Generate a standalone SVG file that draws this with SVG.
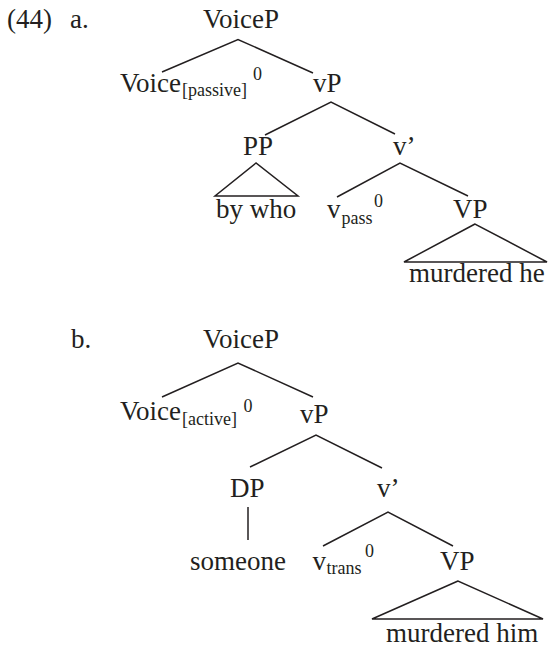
<svg xmlns="http://www.w3.org/2000/svg" width="552" height="650" viewBox="0 0 552 650">
<style>
text{font-family:"Liberation Serif","Times New Roman",serif;fill:#231f20}
.m{font-size:27px}
.s{font-size:18px}
.e{stroke:#231f20;stroke-width:1.5;fill:none;stroke-linecap:butt}
</style>
<rect width="552" height="650" fill="#fff"/>
<g id="labels">
<text class="m" x="7" y="28">(44)</text>
<text class="m" x="70" y="28">a.</text>
<text class="m" x="71" y="348">b.</text>
</g>
<g id="connectors" class="e">
<polyline points="162,72 238,39.5 313,73"/>
<polyline points="265,135 331,102 395,134"/>
<polygon points="256,163 215,196 298,196"/>
<polyline points="337,197 400,163 468,196"/>
<polygon points="475,224 404,262 547,262"/>
<polyline points="162,397 238,363 313,397"/>
<polyline points="250,467 316,435 382,468"/>
<line x1="248" y1="507" x2="248" y2="540"/>
<polyline points="323,546 388,512 453,546"/>
<polygon points="458,581 372,619 543,619"/>
</g>
<g id="a-VoiceP"><text class="m" x="203" y="28">VoiceP</text></g>
<g id="a-Voice"><text class="m" x="120" y="91.5">Voice</text><text class="s" x="182" y="96">[passive]</text><text class="s" x="253" y="80">0</text></g>
<g id="a-vP"><text class="m" x="313" y="91.5">vP</text></g>
<g id="a-PP"><text class="m" x="243" y="155">PP</text></g>
<g id="a-vbar"><text class="m" x="393" y="155">v’</text></g>
<g id="a-bywho"><text class="m" x="216" y="218">by who</text></g>
<g id="a-vpass"><text class="m" x="327" y="218">v</text><text class="s" x="341.5" y="223.5">pass</text><text class="s" x="374" y="207">0</text></g>
<g id="a-VP"><text class="m" x="453" y="218">VP</text></g>
<g id="a-murdered"><text class="m" x="409" y="281.5">murdered he</text></g>
<g id="b-VoiceP"><text class="m" x="203" y="348">VoiceP</text></g>
<g id="b-Voice"><text class="m" x="120" y="420">Voice</text><text class="s" x="182" y="424.5">[active]</text><text class="s" x="243.5" y="412">0</text></g>
<g id="b-vP"><text class="m" x="300" y="423">vP</text></g>
<g id="b-DP"><text class="m" x="230" y="497">DP</text></g>
<g id="b-vbar"><text class="m" x="377" y="497">v’</text></g>
<g id="b-someone"><text class="m" x="190" y="570">someone</text></g>
<g id="b-vtrans"><text class="m" x="312.5" y="570">v</text><text class="s" x="326.5" y="574">trans</text><text class="s" x="365" y="557">0</text></g>
<g id="b-VP"><text class="m" x="440" y="570">VP</text></g>
<g id="b-murdered"><text class="m" x="386" y="641.5">murdered him</text></g>
</svg>
